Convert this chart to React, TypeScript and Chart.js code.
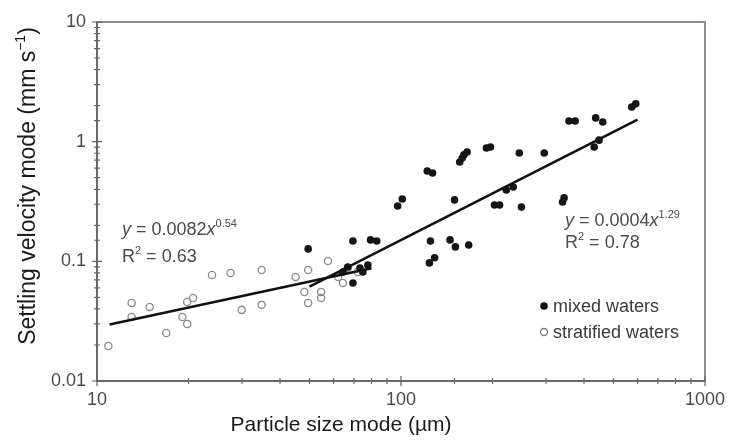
import React, { useEffect, useRef } from 'react';
import { Chart, registerables } from 'chart.js';
Chart.register(...registerables);

// ---- data ----
const stratifiedX = [10.9, 13.0, 13.0, 14.9, 16.9, 19.8, 20.7, 19.1, 19.8, 23.9, 27.5, 29.9, 34.8, 34.8, 45.0, 49.5, 57.5, 48.1, 49.5, 54.6, 54.6, 62.1, 64.4, 66.8, 72.1];
const stratifiedY = [0.0196, 0.0449, 0.0343, 0.0416, 0.0252, 0.0458, 0.0494, 0.0343, 0.03, 0.0769, 0.08, 0.0393, 0.0847, 0.0433, 0.0741, 0.0847, 0.1006, 0.0555, 0.0449, 0.0555, 0.0494, 0.0741, 0.066, 0.088, 0.0815];

const mixedX = [49.5, 69.5, 79.4, 83.2, 69.5, 66.8, 73.3, 77.8, 74.9, 64.4, 97.5, 101, 122, 127, 125, 145, 151, 167, 129, 124, 150, 159, 161, 165, 156, 191, 197, 203, 211, 222, 234, 245, 249, 296, 344, 340, 357, 374, 461, 448, 432, 437, 574, 592];
const mixedY = [0.127, 0.148, 0.151, 0.148, 0.066, 0.0897, 0.088, 0.0933, 0.0815, 0.0815, 0.29, 0.332, 0.569, 0.548, 0.148, 0.151, 0.132, 0.137, 0.107, 0.097, 0.326, 0.731, 0.775, 0.82, 0.676, 0.886, 0.903, 0.296, 0.296, 0.395, 0.418, 0.805, 0.284, 0.805, 0.339, 0.313, 1.49, 1.49, 1.46, 1.03, 0.903, 1.58, 1.95, 2.07];

const fitStratifiedX = [11, 80];
const fitStratifiedY = [0.0297, 0.0874];
const fitMixedX = [50, 600];
const fitMixedY = [0.0614, 1.53];

const xTickLabels = ['10', '100', '1000'];
const yTickLabels = ['0.01', '0.1', '1', '10'];

const FONT = '"Liberation Sans", Arial, Helvetica, sans-serif';

type Part = { t: string; sup?: boolean; it?: boolean };

function drawParts(ctx: CanvasRenderingContext2D, parts: Part[], x: number, y: number, size: number, align: 'left' | 'center' = 'left') {
  const fontFor = (p: Part) => `${p.it ? 'italic ' : ''}${p.sup ? Math.round(size * 0.62) : size}px ${FONT}`;
  let total = 0;
  for (const p of parts) { ctx.font = fontFor(p); total += ctx.measureText(p.t).width; }
  let cx = align === 'center' ? x - total / 2 : x;
  ctx.textAlign = 'left';
  ctx.textBaseline = 'alphabetic';
  for (const p of parts) {
    ctx.font = fontFor(p);
    ctx.fillText(p.t, cx, p.sup ? y - size * 0.42 : y);
    cx += ctx.measureText(p.t).width;
  }
}

const isDecade = (v: number) => Math.abs(Math.log10(v) - Math.round(Math.log10(v))) < 1e-6;

const overlay = {
  id: 'overlay',
  afterDraw(chart: any) {
    const { ctx, chartArea: a } = chart;
    const xs = chart.scales.x;
    const ys = chart.scales.y;
    ctx.save();
    // frame
    ctx.strokeStyle = '#8e8e8e';
    ctx.lineWidth = 2;
    ctx.strokeRect(a.left, a.top, a.right - a.left, a.bottom - a.top);
    ctx.strokeStyle = '#6a6a6a';
    ctx.beginPath();
    ctx.moveTo(a.left, a.top);
    ctx.lineTo(a.left, a.bottom);
    ctx.lineTo(a.right, a.bottom);
    ctx.stroke();
    // tick marks
    ctx.strokeStyle = '#666';
    ctx.lineWidth = 1.2;
    ctx.beginPath();
    for (const t of xs.ticks) {
      const p = xs.getPixelForValue(t.value);
      const l = isDecade(t.value) ? 5 : 3;
      ctx.moveTo(p, a.bottom - l);
      ctx.lineTo(p, a.bottom + l);
    }
    for (const t of ys.ticks) {
      const p = ys.getPixelForValue(t.value);
      const l = isDecade(t.value) ? 5 : 3;
      ctx.moveTo(a.left - l, p);
      ctx.lineTo(a.left + l, p);
    }
    ctx.stroke();

    // equations
    ctx.fillStyle = '#4a4a4a';
    drawParts(ctx, [{ t: 'y', it: true }, { t: ' = 0.0082' }, { t: 'x', it: true }, { t: '0.54', sup: true }], 122, 235, 18);
    drawParts(ctx, [{ t: 'R' }, { t: '2', sup: true }, { t: ' = 0.63' }], 122, 262, 18);
    drawParts(ctx, [{ t: 'y', it: true }, { t: ' = 0.0004' }, { t: 'x', it: true }, { t: '1.29', sup: true }], 565, 226, 18);
    drawParts(ctx, [{ t: 'R' }, { t: '2', sup: true }, { t: ' = 0.78' }], 565, 248, 18);

    // legend
    ctx.fillStyle = '#111';
    ctx.beginPath();
    ctx.arc(544, 306, 3.8, 0, Math.PI * 2);
    ctx.fill();
    ctx.strokeStyle = '#777';
    ctx.lineWidth = 1.3;
    ctx.beginPath();
    ctx.arc(544, 332, 3.5, 0, Math.PI * 2);
    ctx.stroke();
    ctx.fillStyle = '#3a3a3a';
    drawParts(ctx, [{ t: 'mixed waters' }], 553, 312, 18);
    drawParts(ctx, [{ t: 'stratified waters' }], 553, 338, 18);

    // axis titles
    ctx.fillStyle = '#1a1a1a';
    drawParts(ctx, [{ t: 'Particle size mode (µm)' }], 341, 431, 21, 'center');
    ctx.translate(35, 186);
    ctx.rotate(-Math.PI / 2);
    drawParts(ctx, [{ t: 'Settling velocity mode (mm s' }, { t: '−1', sup: true }, { t: ')' }], 0, 0, 23, 'center');
    ctx.restore();
  },
};

export default function App() {
  const ref = useRef<HTMLCanvasElement | null>(null);
  useEffect(() => {
    document.body.style.margin = '0';
    const canvas = ref.current!;
    const chart = new Chart(canvas, {
      type: 'scatter',
      data: {
        datasets: [
          {
            label: 'fit stratified',
            data: fitStratifiedX.map((x, i) => ({ x, y: fitStratifiedY[i] })),
            showLine: true,
            borderColor: '#111',
            borderWidth: 2.6,
            pointRadius: 0,
          },
          {
            label: 'fit mixed',
            data: fitMixedX.map((x, i) => ({ x, y: fitMixedY[i] })),
            showLine: true,
            borderColor: '#111',
            borderWidth: 2.6,
            pointRadius: 0,
          },
          {
            label: 'mixed waters',
            data: mixedX.map((x, i) => ({ x, y: mixedY[i] })),
            pointRadius: 3.8,
            backgroundColor: '#151515',
            borderColor: '#151515',
            borderWidth: 0,
          },
          {
            label: 'stratified waters',
            data: stratifiedX.map((x, i) => ({ x, y: stratifiedY[i] })),
            pointRadius: 3.6,
            backgroundColor: 'rgba(255,255,255,0)',
            borderColor: '#8a8a8a',
            borderWidth: 1.3,
          },
        ],
      },
      options: {
        responsive: false,
        animation: false,
        events: [],
        layout: { padding: { left: 0, right: 23, top: 22, bottom: 0 } },
        plugins: { legend: { display: false }, tooltip: { enabled: false } },
        scales: {
          x: {
            type: 'logarithmic',
            min: 10,
            max: 1000,
            grid: { display: false, drawTicks: false },
            border: { display: false },
            ticks: {
              autoSkip: false,
              maxRotation: 0,
              padding: 8,
              color: '#4a4a4a',
              font: { family: FONT, size: 18 },
              callback: (v: any) => (isDecade(Number(v)) ? xTickLabels[Math.round(Math.log10(Number(v))) - 1] : ''),
            },
            afterFit: (s: any) => { s.height = 60; },
          },
          y: {
            type: 'logarithmic',
            min: 0.01,
            max: 10,
            grid: { display: false, drawTicks: false },
            border: { display: false },
            ticks: {
              autoSkip: false,
              padding: 11,
              color: '#4a4a4a',
              font: { family: FONT, size: 18 },
              callback: (v: any) => (isDecade(Number(v)) ? yTickLabels[Math.round(Math.log10(Number(v))) + 2] : ''),
            },
            afterFit: (s: any) => { s.width = 97; },
          },
        },
      },
      plugins: [overlay],
    } as any);
    return () => chart.destroy();
  }, []);
  return (
    <div style={{ width: 733, height: 441, background: '#fff' }}>
      <canvas ref={ref} width={733} height={441} style={{ display: 'block' }} />
    </div>
  );
}
